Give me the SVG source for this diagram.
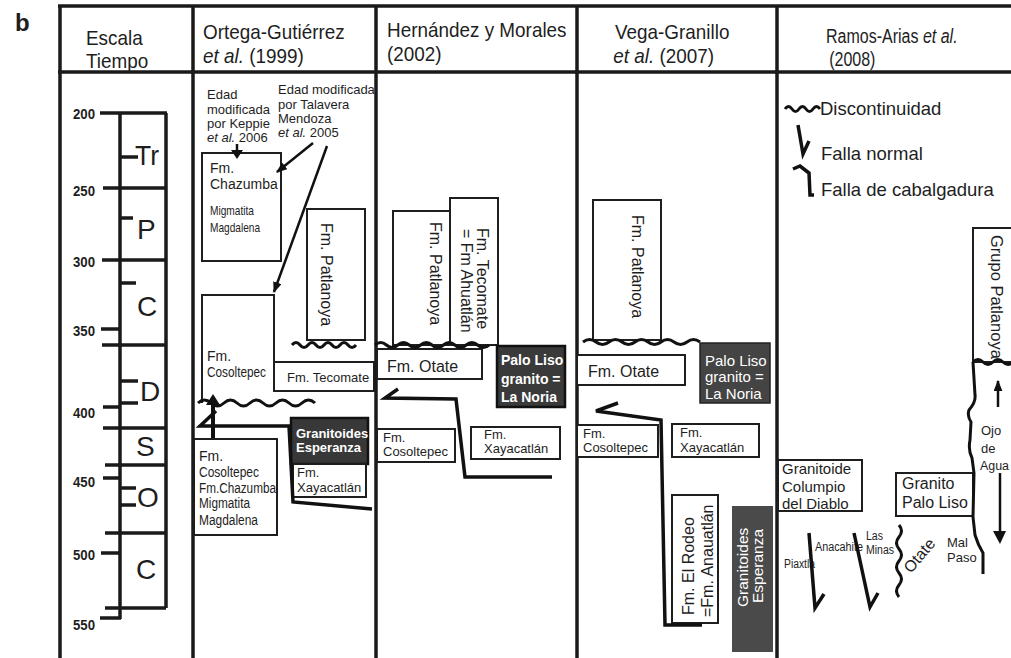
<svg xmlns="http://www.w3.org/2000/svg" width="1011" height="658" viewBox="0 0 1011 658">
<defs>
<style>
text{font-family:"Liberation Sans",Arial,sans-serif;fill:#1e1e1e}
.hd{font-size:21px}
.t12{font-size:12px}
.t13{font-size:13px}
.t14{font-size:14px}
.t15{font-size:15px}
.t16{font-size:16px}
.leg{font-size:18.5px}
.per{font-size:28px}
.num{font-size:14.5px;font-weight:bold}
.frame{stroke:#1a1a1a;stroke-width:3.5;fill:none}
.sc{stroke:#1a1a1a;stroke-width:3.5;fill:none}
.box{fill:#fff;stroke:#1e1e1e;stroke-width:2}
.dark{stroke:#111;stroke-width:2.5}
.fault{stroke:#111;stroke-width:3.5;fill:none;stroke-linejoin:miter}
.wave{stroke:#111;stroke-width:3;fill:none}
.arr{stroke:#111;stroke-width:2.5;fill:none}
.wt{fill:#fff}
.b{font-weight:bold}
.i{font-style:italic}
</style>
<marker id="ah" viewBox="0 0 10 8" refX="9" refY="4" markerWidth="11" markerHeight="9" markerUnits="userSpaceOnUse" orient="auto"><path d="M0,0 L10,4 L0,8 z" fill="#111"/></marker>
</defs>
<rect width="1011" height="658" fill="#fff"/>

<text x="15" y="31" font-size="24" class="b" fill="#111">b</text>

<g id="frame" class="frame">
<path d="M58,6 H1011 M58,72 H1011 M60,6 V658 M193,6 V658 M376,6 V658 M577,6 V658 M777,6 V658"/>
<path stroke-width="2" d="M370,362 H376 M370,390 H376 M376,378 H381 M376,430 H381 M376,460 H381"/>
</g>

<g id="headers">
<text class="hd" transform="translate(86,45) scale(0.9,1)">Escala<tspan x="0" dy="23">Tiempo</tspan></text>
<text class="hd" transform="translate(203,39) scale(0.9,1)">Ortega-Gutiérrez<tspan x="0" dy="24"><tspan class="i">et al.</tspan> (1999)</tspan></text>
<text class="hd" transform="translate(387,37) scale(0.9,1)">Hernández y Morales<tspan x="0" dy="24">(2002)</tspan></text>
<text class="hd" transform="translate(615,39) scale(0.9,1)">Vega-Granillo<tspan x="-2" dy="24"><tspan class="i">et al.</tspan> (2007)</tspan></text>
<text font-size="20" transform="translate(826,43) scale(0.8,1)">Ramos-Arias <tspan class="i">et al.</tspan><tspan x="4" dy="23">(2008)</tspan></text>
</g>

<g id="time-scale">
<path class="sc" d="M100,113 H167 M103,188 H166 M102,260 H166 M102,345 H166 M103,428 H166 M105,465 H166 M105,533 H166 M105,608 H166 M120,113 V619 M166,113 V608 M100,618 H121 M101,329 H120 M103,407 H120 M103,478 H120 M101,553 H120 M120,157 H138 M120,218 H133 M120,283 H136 M120,381 H138 M120,403 H138 M120,488 H136 M120,505 H136"/>
<text class="num" x="73" y="119" textLength="22" lengthAdjust="spacingAndGlyphs">200</text>
<text class="num" x="73" y="196" textLength="22" lengthAdjust="spacingAndGlyphs">250</text>
<text class="num" x="73" y="267" textLength="22" lengthAdjust="spacingAndGlyphs">300</text>
<text class="num" x="73" y="336" textLength="22" lengthAdjust="spacingAndGlyphs">350</text>
<text class="num" x="73" y="418" textLength="22" lengthAdjust="spacingAndGlyphs">400</text>
<text class="num" x="73" y="487" textLength="22" lengthAdjust="spacingAndGlyphs">450</text>
<text class="num" x="73" y="560" textLength="22" lengthAdjust="spacingAndGlyphs">500</text>
<text class="num" x="73" y="630" textLength="22" lengthAdjust="spacingAndGlyphs">550</text>
<text class="per" x="135" y="165" textLength="24" lengthAdjust="spacingAndGlyphs">Tr</text>
<text class="per" x="137" y="239">P</text>
<text class="per" x="137" y="316">C</text>
<text class="per" x="140" y="401">D</text>
<text class="per" x="136" y="456">S</text>
<text class="per" x="137" y="507">O</text>
<text class="per" x="136" y="579">C</text>
</g>

<g id="ortega-note-keppie">
<text class="t13"><tspan x="207" y="99">Edad</tspan><tspan x="207" y="114">modificada</tspan><tspan x="207" y="128">por Keppie</tspan><tspan x="207" y="142"><tspan class="i">et al.</tspan> 2006</tspan></text>
</g>
<g id="ortega-note-talavera">
<text class="t13"><tspan x="278" y="94">Edad modificada</tspan><tspan x="278" y="109">por Talavera</tspan><tspan x="278" y="123">Mendoza</tspan><tspan x="278" y="137"><tspan class="i">et al.</tspan> 2005</tspan></text>
</g>

<g id="ortega-chazumba">
<rect class="box" x="202" y="153" width="79" height="108"/>
<text class="t14" x="210" y="173">Fm.</text>
<text class="t14" x="210" y="189">Chazumba</text>
<text class="t13" x="210" y="215" textLength="44" lengthAdjust="spacingAndGlyphs">Migmatita</text>
<text class="t13" x="210" y="232" textLength="50" lengthAdjust="spacingAndGlyphs">Magdalena</text>
</g>

<g id="ortega-patlanoya">
<rect class="box" x="307" y="209" width="58" height="131"/>
<text class="t16" transform="translate(321,223) rotate(90)">Fm. Patlanoya</text>
</g>

<g id="ortega-cosoltepec">
<path class="box" fill="none" d="M202,403 V295 H274 V391"/>
<text class="t14" x="207" y="361">Fm.</text>
<text class="t14" x="207" y="377" textLength="59" lengthAdjust="spacingAndGlyphs">Cosoltepec</text>
</g>

<g id="ortega-tecomate">
<rect class="box" x="274" y="362" width="100" height="29"/>
<text class="t13" x="287" y="382">Fm. Tecomate</text>
</g>

<g id="ortega-lower">
<rect class="box" x="194" y="439" width="83" height="96"/>
<text class="t14" x="199" y="461">Fm.</text>
<text class="t14" x="199" y="477" textLength="60" lengthAdjust="spacingAndGlyphs">Cosoltepec</text>
<text class="t14" x="199" y="493" textLength="77" lengthAdjust="spacingAndGlyphs">Fm.Chazumba</text>
<text class="t14" x="199" y="508" textLength="51" lengthAdjust="spacingAndGlyphs">Migmatita</text>
<text class="t14" x="199" y="525" textLength="59" lengthAdjust="spacingAndGlyphs">Magdalena</text>
</g>

<g id="ortega-granitoides">
<rect class="dark" x="291" y="418" width="77" height="46" fill="#383838"/>
<text class="t13 b wt" x="296" y="438">Granitoides</text>
<text class="t13 b wt" x="296" y="452">Esperanza</text>
</g>

<g id="ortega-xayacatlan">
<rect class="box" x="293" y="464" width="73" height="33"/>
<text class="t13" x="297" y="477">Fm.</text>
<text class="t13" x="297" y="492">Xayacatlán</text>
</g>

<g id="hernandez-patlanoya">
<rect class="box" x="393" y="211" width="57" height="134"/>
<text class="t16" transform="translate(430,222) rotate(90)">Fm. Patlanoya</text>
</g>
<g id="hernandez-tecomate">
<rect class="box" x="450" y="198" width="48" height="147"/>
<text class="t16" transform="translate(477,228) rotate(90)">Fm. Tecomate<tspan x="1" dy="16">= Fm Ahuatlán</tspan></text>
</g>
<g id="hernandez-otate">
<rect class="box" x="377" y="349" width="105" height="30"/>
<text class="t16" x="387" y="372">Fm. Otate</text>
</g>
<g id="hernandez-palo-liso">
<rect class="dark" x="497" y="346" width="68" height="61" fill="#3a3a3a"/>
<text class="t14 b wt" x="501" y="365">Palo Liso</text>
<text class="t14 b wt" x="501" y="384">granito =</text>
<text class="t14 b wt" x="501" y="402">La Noria</text>
</g>
<g id="hernandez-cosoltepec">
<rect class="box" x="377" y="429" width="78" height="33"/>
<text class="t13" x="383" y="442">Fm.</text>
<text class="t13" x="383" y="456">Cosoltepec</text>
</g>
<g id="hernandez-xayacatlan">
<rect class="box" x="471" y="427" width="89" height="32"/>
<text class="t13" x="484" y="439">Fm.</text>
<text class="t13" x="484" y="453">Xayacatlán</text>
</g>

<g id="vega-patlanoya">
<rect class="box" x="593" y="200" width="68" height="140"/>
<text class="t16" transform="translate(632,215) rotate(90)">Fm. Patlanoya</text>
</g>
<g id="vega-otate">
<rect class="box" x="577" y="355" width="108" height="30"/>
<text class="t16" x="588" y="377">Fm. Otate</text>
</g>
<g id="vega-palo-liso">
<rect x="700" y="343" width="70" height="60" fill="#444" stroke="#222" stroke-width="1.5"/>
<text class="t15 wt" x="705" y="366">Palo Liso</text>
<text class="t15 wt" x="705" y="382">granito =</text>
<text class="t15 wt" x="705" y="399">La Noria</text>
</g>
<g id="vega-cosoltepec">
<rect class="box" x="577" y="425" width="81" height="32"/>
<text class="t13" x="583" y="438">Fm.</text>
<text class="t13" x="583" y="452">Cosoltepec</text>
</g>
<g id="vega-xayacatlan">
<rect class="box" x="672" y="424" width="87" height="33"/>
<text class="t13" x="680" y="437">Fm.</text>
<text class="t13" x="680" y="452">Xayacatlán</text>
</g>
<g id="vega-el-rodeo">
<rect class="box" x="672" y="495" width="46" height="128"/>
<text class="t16" transform="translate(694,615) rotate(-90)">Fm. El Rodeo<tspan x="-2" dy="19">=Fm. Anauatlán</tspan></text>
</g>
<g id="vega-granitoides">
<rect x="732" y="506" width="41" height="146" fill="#4a4a4a"/>
<text class="wt" font-size="15.5" transform="translate(748,607) rotate(-90)">Granitoides<tspan x="4" dy="15">Esperanza</tspan></text>
</g>

<g id="legend">
<path class="wave" d="M785,109 q3.5,-5 7,0 t7,0 t7,0 t7,0 t7,0"/>
<text class="leg" x="820" y="115">Discontinuidad</text>
<path class="fault" d="M798,125 L803,154 L809,141"/>
<text class="leg" x="821" y="160">Falla normal</text>
<path class="fault" d="M793,169 L800,166 L809,173 L810,195 L814,195"/>
<text class="leg" x="821" y="196">Falla de cabalgadura</text>
</g>

<g id="ramos-patlanoya">
<rect class="box" x="973" y="228" width="45" height="134"/>
<text font-size="16.5" transform="translate(991,235) rotate(90)">Grupo Patlanoya</text>
</g>
<g id="ramos-ojo-de-agua">
<text class="t13" x="981" y="435">Ojo</text>
<text class="t13" x="981" y="453">de</text>
<text font-size="12.5" x="980" y="470" textLength="29" lengthAdjust="spacingAndGlyphs">Agua</text>
</g>
<g id="ramos-columpio">
<rect class="box" x="778" y="460" width="84" height="51"/>
<text class="t15" x="782" y="474">Granitoide</text>
<text class="t15" x="782" y="492">Columpio</text>
<text class="t15" x="782" y="509">del Diablo</text>
</g>
<g id="ramos-palo-liso">
<rect class="box" x="896" y="473" width="77" height="43"/>
<text class="t16" x="902" y="489">Granito</text>
<text class="t16" x="902" y="508">Palo Liso</text>
</g>
<g id="ramos-labels">
<text class="t12" x="784" y="568" textLength="31" lengthAdjust="spacingAndGlyphs">Piaxtla</text>
<text class="t12" x="815" y="551" textLength="48" lengthAdjust="spacingAndGlyphs">Anacahite</text>
<text class="t12" x="866" y="540" textLength="17" lengthAdjust="spacingAndGlyphs">Las</text>
<text class="t12" x="866" y="554" textLength="28" lengthAdjust="spacingAndGlyphs">Minas</text>
<text class="t16" transform="translate(911,574) rotate(-50)">Otate</text>
<text class="t13" x="947" y="547">Mal</text>
<text class="t13" x="947" y="562">Paso</text>
</g>

<g id="connectors">
<path class="arr" d="M237,144 V152"/>
<polygon points="231,150 243,150 237,159" fill="#111"/>
<path class="arr" marker-end="url(#ah)" d="M313,143 L277,172"/>
<path class="arr" marker-end="url(#ah)" d="M327,146 L274,292"/>
<path class="wave" d="M292,345 q4,-5 8,0 t8,0 t8,0 t8,0 t8,0 t8,0 t8,0 t8,0"/>
<path class="wave" d="M198,403 q6.5,-6 13,0 t13,0 t13,0 t13,0 t13,0 t13,0 t13,0 t13,0 t13,0"/>
<path stroke="#111" stroke-width="4" d="M213,438 V403"/>
<polygon points="213,394 206,405 220,405" fill="#111"/>
<path class="fault" stroke-width="4" d="M216,411 L200,426 L289,426 L293,502 L372,509"/>
<path class="wave" d="M375,345 q5.7,-5 11.4,0 t11.4,0 t11.4,0 t11.4,0 t11.4,0 t11.4,0 t11.4,0 t11.4,0 t11.4,0 t11.4,0"/>
<path class="fault" d="M398,389 L385,398 L456,399 L465,477 L552,477"/>
<path class="wave" d="M583,342 q6.5,-5 13,0 t13,0 t13,0 t13,0 t13,0 t13,0 t13,0 t13,0 t13,0"/>
<path class="fault" d="M618,403 L596,411 L661,420 L665,625 L702,625"/>
<path class="wave" d="M973,362 q5,-5 10,0 t10,0 t10,0 t10,0"/>
<path class="wave" d="M973,362 L975,395 Q976,402 969,410 Q967,416 971,422 L970,440 Q968,450 972,458 L974,473 L973,517 L975,535 Q978,545 983,553 L983,574"/>
<path class="arr" marker-end="url(#ah)" d="M998,407 V381"/>
<path class="arr" d="M1000,473 V533"/>
<polygon points="993,531 1006,531 1000,544" fill="#111"/>
<path class="fault" d="M809,533 L815,608 L824,594"/>
<path class="fault" d="M854,533 L870,607 L878,593"/>
<path class="wave" d="M899,525 q5,6 0,12 t0,12 t0,12 t0,12 t0,12 t0,12"/>
</g>
</svg>
